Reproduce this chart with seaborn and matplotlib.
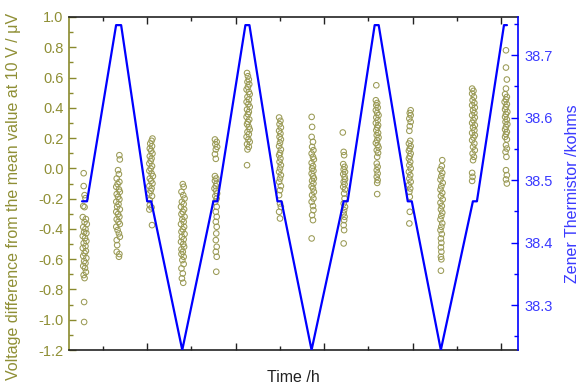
import matplotlib
matplotlib.use("Agg")
import matplotlib.pyplot as plt
import numpy as np
import pandas as pd
import seaborn as sns
from matplotlib.ticker import MultipleLocator, FormatStrFormatter

# ---------------- data ----------------
# Zener thermistor resistance (kohms) vs time (h): polyline vertices
line_t = [0.527, 0.640, 1.297, 1.411, 2.000, 2.091, 2.793, 3.496, 3.586, 4.221, 4.312,
          4.946, 5.037, 5.717, 6.442, 6.533, 7.144, 7.235, 7.892, 7.983, 8.640, 9.365,
          9.456, 10.068, 10.136]
line_r = [38.466, 38.466, 38.748, 38.748, 38.466, 38.466, 38.228, 38.466, 38.466, 38.748, 38.748,
          38.466, 38.466, 38.228, 38.466, 38.466, 38.748, 38.748, 38.466, 38.466, 38.228, 38.466,
          38.466, 38.748, 38.748]

# measurement groups: centre time (h)
group_t = [0.584, 1.331, 2.079, 2.805, 3.552, 4.278, 5.003, 5.739, 6.453, 7.201, 7.938, 8.652, 9.388, 10.113]

# (time offset within group in h, voltage difference in uV)
g01 = [(-0.02, -0.032), (-0.02, -0.117), (0.00, -0.177), (0.02, -0.197), (-0.03, -0.249), (0.00, -0.256),
       (-0.04, -0.322), (0.03, -0.335), (0.00, -0.355), (0.05, -0.368), (-0.03, -0.388), (0.02, -0.401),
       (-0.01, -0.421), (0.04, -0.428), (-0.04, -0.447), (0.01, -0.461), (0.04, -0.480), (-0.02, -0.494),
       (0.02, -0.514), (-0.04, -0.527), (0.03, -0.546), (0.00, -0.560), (-0.03, -0.579), (0.04, -0.593),
       (-0.01, -0.613), (0.02, -0.626), (-0.03, -0.645), (0.01, -0.659), (0.03, -0.685), (-0.02, -0.705),
       (0.00, -0.725), (-0.01, -0.883), (-0.01, -1.015)]
g02 = [(0.04, 0.087), (0.05, 0.059), (0.01, -0.012), (0.03, -0.038), (-0.02, -0.067), (0.04, -0.089),
       (0.00, -0.104), (-0.03, -0.122), (0.03, -0.139), (0.05, -0.155), (-0.02, -0.170), (0.01, -0.188),
       (0.04, -0.205), (-0.03, -0.221), (0.02, -0.236), (-0.01, -0.254), (0.05, -0.271), (-0.03, -0.287),
       (0.01, -0.302), (0.04, -0.320), (-0.02, -0.337), (0.02, -0.353), (0.05, -0.368), (-0.03, -0.386),
       (0.00, -0.408), (0.03, -0.430), (0.05, -0.452), (-0.02, -0.474), (-0.01, -0.507), (-0.02, -0.551),
       (0.04, -0.566), (0.03, -0.584)]
g03 = [(0.04, 0.197), (0.02, 0.182), (-0.01, 0.164), (0.03, 0.147), (-0.02, 0.131), (0.01, 0.116),
       (0.04, 0.098), (-0.02, 0.080), (0.02, 0.065), (0.00, 0.049), (-0.03, 0.032), (0.03, 0.015),
       (0.00, -0.001), (-0.03, -0.016), (0.02, -0.034), (0.05, -0.051), (-0.02, -0.067), (0.01, -0.082),
       (0.04, -0.100), (-0.03, -0.117), (0.02, -0.132), (0.00, -0.148), (-0.03, -0.166), (0.03, -0.183),
       (-0.02, -0.210), (-0.02, -0.243), (0.02, -0.258), (-0.03, -0.272), (0.03, -0.375)]
g04 = [(0.00, -0.104), (0.02, -0.122), (-0.03, -0.155), (0.01, -0.177), (0.04, -0.199), (-0.02, -0.221),
       (0.02, -0.236), (-0.04, -0.254), (0.03, -0.271), (0.00, -0.287), (-0.03, -0.302), (0.04, -0.320),
       (-0.01, -0.337), (0.02, -0.353), (-0.04, -0.368), (0.03, -0.386), (0.00, -0.403), (-0.03, -0.419),
       (0.04, -0.434), (-0.02, -0.452), (0.02, -0.469), (-0.04, -0.485), (0.01, -0.500), (0.03, -0.518),
       (-0.03, -0.535), (0.00, -0.551), (-0.03, -0.566), (0.02, -0.584), (-0.01, -0.606), (0.02, -0.632),
       (-0.03, -0.661), (0.00, -0.694), (-0.02, -0.727), (0.01, -0.756)]
g05 = [(-0.02, 0.191), (0.02, 0.175), (-0.01, 0.160), (0.03, 0.142), (0.00, 0.125), (-0.02, 0.094),
       (0.00, 0.063), (-0.02, -0.051), (0.01, -0.067), (-0.02, -0.082), (0.02, -0.100), (0.00, -0.117),
       (-0.03, -0.133), (0.01, -0.148), (0.03, -0.166), (-0.01, -0.183), (0.02, -0.199), (-0.01, -0.221),
       (0.02, -0.254), (0.00, -0.287), (0.02, -0.320), (0.00, -0.353), (0.02, -0.386), (0.01, -0.430),
       (0.00, -0.474), (0.02, -0.518), (0.00, -0.551), (0.02, -0.584), (0.01, -0.683)]
g06 = [(-0.02, 0.630), (0.00, 0.609), (0.02, 0.587), (-0.01, 0.571), (0.03, 0.556), (0.00, 0.538),
       (-0.03, 0.521), (0.02, 0.505), (0.04, 0.490), (-0.01, 0.472), (0.02, 0.455), (-0.03, 0.439),
       (0.01, 0.424), (0.04, 0.406), (-0.02, 0.389), (0.02, 0.373), (0.00, 0.358), (-0.03, 0.340),
       (0.03, 0.323), (0.00, 0.307), (-0.02, 0.292), (0.02, 0.274), (0.04, 0.257), (-0.01, 0.241),
       (0.02, 0.226), (-0.03, 0.208), (0.01, 0.191), (0.04, 0.175), (-0.02, 0.160), (0.02, 0.142),
       (-0.01, 0.125), (-0.02, 0.021)]
g07 = [(-0.02, 0.336), (0.01, 0.314), (-0.01, 0.292), (0.02, 0.270), (-0.02, 0.248), (0.01, 0.230),
       (-0.01, 0.208), (0.02, 0.191), (0.00, 0.169), (-0.02, 0.147), (0.02, 0.124), (0.00, 0.102),
       (-0.02, 0.087), (0.01, 0.065), (-0.01, 0.043), (0.02, 0.021), (0.00, -0.001), (-0.02, -0.023),
       (0.02, -0.045), (0.00, -0.067), (-0.02, -0.089), (0.02, -0.117), (0.00, -0.144), (-0.02, -0.177),
       (0.00, -0.232), (0.02, -0.254), (-0.02, -0.287), (0.00, -0.331)]
g08 = [(-0.02, 0.340), (-0.01, 0.274), (-0.02, 0.208), (0.01, 0.175), (-0.01, 0.142), (0.02, 0.120),
       (-0.02, 0.098), (0.01, 0.076), (0.03, 0.059), (-0.02, 0.036), (0.01, 0.015), (-0.01, -0.001),
       (0.02, -0.016), (-0.02, -0.034), (0.01, -0.052), (0.03, -0.067), (-0.01, -0.082), (0.02, -0.100),
       (-0.02, -0.118), (0.01, -0.133), (0.03, -0.155), (-0.01, -0.177), (0.02, -0.199), (-0.02, -0.221),
       (0.01, -0.249), (0.02, -0.276), (-0.01, -0.309), (0.01, -0.342), (-0.02, -0.463)]
g09 = [(-0.03, 0.237), (-0.01, 0.109), (0.00, 0.087), (-0.02, 0.028), (0.01, 0.010), (-0.01, -0.007),
       (0.02, -0.023), (-0.02, -0.038), (0.01, -0.056), (0.02, -0.073), (-0.01, -0.089), (0.01, -0.104),
       (-0.02, -0.122), (0.02, -0.139), (0.00, -0.166), (0.01, -0.199), (-0.01, -0.232), (0.02, -0.254),
       (0.00, -0.276), (-0.01, -0.298), (0.01, -0.320), (0.00, -0.342), (-0.01, -0.375), (0.00, -0.408),
       (-0.01, -0.496)]
g10 = [(-0.02, 0.549), (-0.03, 0.450), (0.00, 0.432), (-0.02, 0.417), (0.01, 0.402), (-0.03, 0.384),
       (0.00, 0.366), (0.03, 0.351), (-0.02, 0.336), (0.01, 0.318), (-0.03, 0.300), (0.02, 0.285),
       (0.00, 0.270), (-0.02, 0.252), (0.02, 0.234), (-0.01, 0.219), (0.03, 0.204), (0.00, 0.186),
       (-0.03, 0.168), (0.01, 0.153), (0.03, 0.138), (-0.01, 0.120), (0.02, 0.102), (0.00, 0.076),
       (-0.01, 0.032), (0.01, 0.010), (-0.01, -0.012), (0.01, -0.034), (-0.01, -0.056), (0.01, -0.078),
       (0.00, -0.096), (0.00, -0.170)]
g11 = [(0.02, 0.384), (0.00, 0.366), (0.02, 0.351), (-0.01, 0.329), (0.02, 0.307), (0.00, 0.279),
       (-0.01, 0.248), (0.01, 0.182), (-0.02, 0.164), (0.02, 0.147), (0.00, 0.131), (-0.02, 0.116),
       (0.02, 0.098), (0.00, 0.080), (-0.02, 0.065), (0.01, 0.043), (-0.01, 0.021), (0.02, -0.001),
       (-0.02, -0.023), (0.01, -0.045), (-0.01, -0.067), (0.02, -0.089), (-0.02, -0.111), (0.01, -0.133),
       (-0.01, -0.155), (0.00, -0.188), (0.00, -0.287), (-0.01, -0.364)]
g12 = [(0.02, 0.054), (0.01, 0.015), (-0.02, -0.007), (0.02, -0.030), (0.00, -0.052), (-0.02, -0.074),
       (0.03, -0.096), (0.00, -0.118), (-0.02, -0.140), (0.02, -0.162), (-0.01, -0.183), (0.03, -0.205),
       (-0.02, -0.227), (0.01, -0.249), (-0.01, -0.271), (0.02, -0.293), (0.00, -0.315), (-0.02, -0.337),
       (0.02, -0.363), (0.00, -0.386), (-0.02, -0.408), (0.01, -0.434), (-0.01, -0.463), (0.00, -0.492),
       (-0.01, -0.522), (0.00, -0.551), (-0.01, -0.584), (0.00, -0.601), (-0.01, -0.676)]
g13 = [(-0.04, 0.527), (-0.01, 0.512), (-0.04, 0.494), (0.00, 0.472), (-0.03, 0.450), (0.01, 0.432),
       (-0.04, 0.417), (0.02, 0.402), (-0.02, 0.384), (0.01, 0.366), (-0.04, 0.351), (0.02, 0.336),
       (-0.01, 0.318), (-0.04, 0.300), (0.02, 0.285), (-0.02, 0.270), (0.01, 0.252), (-0.04, 0.234),
       (0.02, 0.219), (-0.01, 0.204), (-0.04, 0.186), (0.01, 0.164), (-0.02, 0.142), (0.02, 0.120),
       (-0.03, 0.098), (0.00, 0.076), (-0.02, 0.054), (-0.04, -0.030), (-0.03, -0.056), (-0.04, -0.083)]
g14 = [(0.00, 0.780), (0.00, 0.666), (0.02, 0.587), (0.00, 0.527), (-0.02, 0.490), (0.02, 0.472),
       (0.00, 0.455), (-0.03, 0.439), (0.02, 0.424), (0.00, 0.406), (-0.02, 0.389), (0.03, 0.373),
       (0.00, 0.358), (-0.02, 0.340), (0.02, 0.323), (-0.01, 0.307), (0.03, 0.292), (0.00, 0.274),
       (-0.02, 0.257), (0.02, 0.241), (0.00, 0.226), (-0.02, 0.208), (0.02, 0.191), (0.00, 0.153),
       (0.02, 0.131), (-0.01, 0.109), (0.01, 0.076), (0.00, -0.012), (0.02, -0.045), (0.00, -0.073),
       (0.02, -0.100)]

groups = [g01, g02, g03, g04, g05, g06, g07, g08, g09, g10, g11, g12, g13, g14]

# ---------------- build tables ----------------
rows = []
for tc, grp in zip(group_t, groups):
    for dt, v in grp:
        rows.append((tc + dt, v))
pts = pd.DataFrame(rows, columns=["time", "voltage"])
thermo = pd.DataFrame({"time": line_t, "resistance": line_r})

# ---------------- style ----------------
sns.set_style("white")
plt.rcParams["font.family"] = ["Liberation Sans", "DejaVu Sans"]
plt.rcParams["axes.unicode_minus"] = False

OLIVE = "#8a8a2e"
OLIVE_TXT = "#8f8f35"
MARK = "#9a9a55"
BLUE = "#0000ff"
BLUE_TXT = "#3a3aff"
DARK = "#222222"

fig = plt.figure(figsize=(5.79, 3.88), dpi=100)
ax = fig.add_axes([69 / 579, 1 - 350 / 388, 449 / 579, 333 / 388])

sns.scatterplot(data=pts, x="time", y="voltage", ax=ax, marker="o", s=16,
                facecolor="none", edgecolor=MARK, linewidth=0.75, legend=False, zorder=2)

ax.set_xlim(0.232, 10.385)
ax.set_ylim(-1.2, 1.0)
ax.xaxis.set_major_locator(MultipleLocator(2))
ax.xaxis.set_minor_locator(MultipleLocator(1))
ax.yaxis.set_major_locator(MultipleLocator(0.2))
ax.yaxis.set_minor_locator(MultipleLocator(0.1))
ax.yaxis.set_major_formatter(FormatStrFormatter("%.1f"))

ax.tick_params(axis="x", which="both", direction="in", top=True, bottom=True,
               labelbottom=False, color=DARK)
ax.tick_params(axis="x", which="major", length=5, width=1)
ax.tick_params(axis="x", which="minor", length=3, width=1)
ax.tick_params(axis="y", which="both", direction="in", left=True, right=False,
               color=OLIVE, labelcolor=OLIVE_TXT, labelsize=10.5, pad=4)
ax.tick_params(axis="y", which="major", length=5, width=1)
ax.tick_params(axis="y", which="minor", length=3, width=1)

for side in ["top", "bottom"]:
    ax.spines[side].set_color(DARK)
    ax.spines[side].set_linewidth(1.2)
ax.spines["left"].set_color(OLIVE)
ax.spines["left"].set_linewidth(1.2)
ax.spines["right"].set_visible(False)

ax.set_xlabel("Time /h", fontsize=11.5, color=DARK)
ax.xaxis.set_label_coords(0.5, -0.06)
ax.set_ylabel("Voltage difference from the mean value at 10 V / \u03bcV", fontsize=11.5, color=OLIVE_TXT)
ax.yaxis.set_label_coords(-0.107, 0.462)

ax2 = ax.twinx()
sns.lineplot(data=thermo, x="time", y="resistance", ax=ax2, color=BLUE, linewidth=1.6,
             estimator=None, sort=False, legend=False)
ax2.set_ylim(38.228, 38.761)
ax2.yaxis.set_major_locator(MultipleLocator(0.1))
ax2.yaxis.set_minor_locator(MultipleLocator(0.05))
ax2.yaxis.set_major_formatter(FormatStrFormatter("%.1f"))
ax2.tick_params(axis="y", which="both", direction="in", right=True, left=False,
                color=BLUE, labelcolor=BLUE_TXT, labelsize=10.5, pad=5)
ax2.tick_params(axis="y", which="major", length=5, width=1)
ax2.tick_params(axis="y", which="minor", length=3, width=1)
ax2.spines["right"].set_color(BLUE)
ax2.spines["right"].set_linewidth(1.2)
for side in ["top", "bottom", "left"]:
    ax2.spines[side].set_visible(False)
ax2.set_xlabel("")
ax2.set_ylabel("Zener Thermistor /kohms", fontsize=11.5, color=BLUE_TXT)
ax2.yaxis.set_label_coords(1.104, 0.468)

fig.savefig("out.png", dpi=100)
